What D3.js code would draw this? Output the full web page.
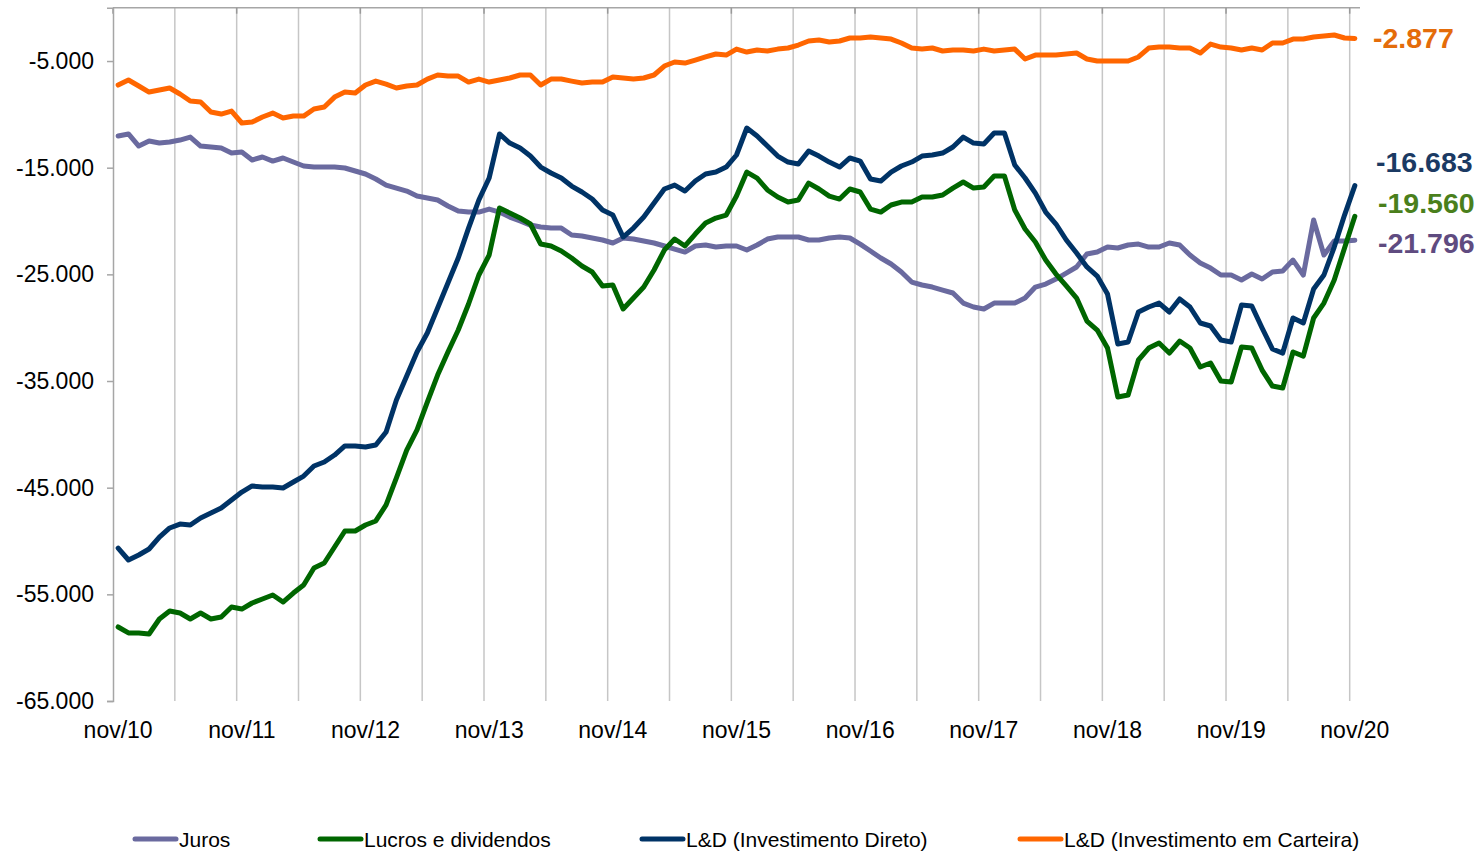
<!DOCTYPE html>
<html>
<head>
<meta charset="utf-8">
<script src="https://cdnjs.cloudflare.com/ajax/libs/d3/7.8.5/d3.min.js"></script>
<style>
  body { margin: 0; background: #fff; }
  svg { display: block; font-family: "Liberation Sans", Arial, sans-serif; }
</style>
</head>
<body>
<div id="chart"></div>
<script>
// monthly data, nov/10 .. nov/20 (121 months)
var months = d3.timeMonth.range(new Date(2010, 10, 1), new Date(2020, 11, 1));
var tickLabels = ["nov/10", "nov/11", "nov/12", "nov/13", "nov/14", "nov/15", "nov/16", "nov/17", "nov/18", "nov/19", "nov/20"];
var yTicks = [-5000, -15000, -25000, -35000, -45000, -55000, -65000];

var juros = [
  -12030, -11840, -12970, -12500, -12690, -12590, -12410, -12130, -12970, -13060, -13160, -13630,
  -13530, -14280, -14000, -14380, -14090, -14470, -14840, -14940, -14940, -14940, -15030, -15310,
  -15590, -16060, -16630, -16910, -17190, -17660, -17840, -18030, -18590, -19060, -19160, -19160,
  -18880, -19160, -19630, -20000, -20380, -20560, -20660, -20660, -21310, -21410, -21590, -21780,
  -22060, -21590, -21690, -21880, -22060, -22340, -22630, -22910, -22340, -22250, -22440, -22340,
  -22340, -22720, -22250, -21690, -21500, -21500, -21500, -21780, -21780, -21590, -21500, -21590,
  -22160, -22810, -23470, -24030, -24780, -25720, -26000, -26190, -26470, -26750, -27690, -28060,
  -28250, -27690, -27690, -27690, -27220, -26190, -25910, -25440, -24880, -24310, -23090, -22910,
  -22440, -22530, -22250, -22160, -22440, -22440, -22060, -22250, -23190, -23940, -24410, -25060,
  -25060, -25530, -24970, -25440, -24780, -24690, -23660, -25060, -19910, -23190, -21880, -21880,
  -21796
];

var lucros = [
  -58060, -58620, -58620, -58720, -57310, -56560, -56750, -57310, -56750, -57310, -57120, -56190,
  -56380, -55810, -55440, -55060, -55720, -54880, -54120, -52530, -52060, -50560, -49060, -49060,
  -48500, -48120, -46620, -44090, -41470, -39590, -36970, -34440, -32280, -30220, -27780, -25060,
  -23190, -18780, -19250, -19720, -20280, -22160, -22340, -22810, -23470, -24220, -24780, -26090,
  -26000, -28250, -27220, -26190, -24590, -22720, -21690, -22340, -21220, -20190, -19720, -19440,
  -17660, -15410, -15970, -17090, -17750, -18220, -18030, -16440, -17000, -17660, -17940, -17000,
  -17280, -18880, -19160, -18500, -18220, -18220, -17750, -17750, -17560, -16910, -16340, -16910,
  -16810, -15780, -15780, -18970, -20750, -21970, -23660, -24970, -26090, -27220, -29380, -30220,
  -31910, -36500, -36310, -33030, -31910, -31440, -32380, -31250, -31910, -33690, -33310, -35000,
  -35090, -31810, -31910, -33970, -35470, -35660, -32280, -32660, -29090, -27690, -25530, -22530,
  -19560
];

var ldDireto = [
  -50660, -51780, -51310, -50750, -49630, -48780, -48410, -48500, -47840, -47380, -46910, -46160,
  -45410, -44840, -44940, -44940, -45030, -44470, -43910, -42970, -42590, -41940, -41090, -41090,
  -41190, -41000, -39780, -36780, -34530, -32280, -30500, -28160, -25810, -23470, -20660, -18030,
  -15970, -11840, -12690, -13160, -13910, -14940, -15500, -15970, -16720, -17280, -17940, -18970,
  -19440, -21500, -20660, -19630, -18310, -17000, -16630, -17190, -16250, -15590, -15410, -14940,
  -13810, -11280, -12030, -12970, -13910, -14470, -14660, -13440, -13910, -14470, -14940, -14090,
  -14380, -16060, -16250, -15410, -14840, -14470, -13910, -13810, -13630, -13060, -12130, -12690,
  -12780, -11750, -11750, -14750, -15970, -17380, -19160, -20280, -21780, -23000, -24310, -25160,
  -26840, -31530, -31340, -28530, -28060, -27690, -28530, -27310, -28060, -29560, -29840, -31160,
  -31340, -27880, -27970, -30030, -32000, -32380, -29090, -29560, -26380, -25060, -22440, -19440,
  -16683
];

var ldCarteira = [
  -7250, -6780, -7340, -7910, -7720, -7530, -8090, -8750, -8840, -9780, -9970, -9690,
  -10810, -10720, -10250, -9880, -10340, -10160, -10160, -9500, -9310, -8380, -7910, -8000,
  -7250, -6880, -7160, -7530, -7340, -7250, -6690, -6310, -6410, -6410, -6970, -6690,
  -6970, -6780, -6590, -6310, -6310, -7250, -6690, -6690, -6880, -7060, -6970, -6970,
  -6500, -6590, -6690, -6590, -6310, -5470, -5090, -5190, -4910, -4620, -4340, -4440,
  -3880, -4160, -3970, -4060, -3880, -3780, -3500, -3120, -3030, -3220, -3120, -2840,
  -2840, -2750, -2840, -2940, -3310, -3780, -3880, -3780, -4060, -3970, -3970, -4060,
  -3880, -4060, -3970, -3880, -4810, -4440, -4440, -4440, -4340, -4250, -4810, -5000,
  -5000, -5000, -5000, -4620, -3780, -3690, -3690, -3780, -3780, -4250, -3410, -3690,
  -3780, -3970, -3780, -3970, -3310, -3310, -2940, -2940, -2750, -2660, -2560, -2840,
  -2877
];

var seriesNames = ["Juros", "Lucros e dividendos", "L&D (Investimento Direto)", "L&D (Investimento em Carteira)"];
var lineColors = ["#6a6a9f", "#006600", "#003366", "#ff6600"];
var labelColors = ["#5f4b80", "#4a7f1c", "#1b3a63", "#e46c0a"];
var allSeries = [juros, lucros, ldDireto, ldCarteira];

const drawChart = () => {

    var W = 1484, H = 854;
    var plotLeft = 113, plotRight = 1360, plotTop = 7.7, plotBottom = 701;

    var locale = d3.formatLocale({ decimal: ",", thousands: ".", grouping: [3], currency: ["R$", ""], minus: "-" });
    var fmt = locale.format(",.0f");

    var svg = d3.select("#chart").append("svg")
        .attr("width", W)
        .attr("height", H);

    var x = d3.scaleBand()
        .domain(d3.range(months.length))
        .range([plotLeft, plotRight])
        .padding(0);

    var y = d3.scaleLinear()
        .domain([-65000, 0])
        .range([plotBottom, plotTop]);

    function cx(i) { return x(i) + x.bandwidth() / 2; }

    // vertical gridlines every 6 months
    svg.append("g").selectAll("line")
        .data(d3.range(6, months.length, 6))
        .enter().append("line")
        .attr("x1", function(d) { return x(d); })
        .attr("x2", function(d) { return x(d); })
        .attr("y1", plotTop)
        .attr("y2", plotBottom)
        .style("stroke", "#c6c6c6")
        .style("stroke-width", 1.5);

    // category axis sits at the top (crosses at max)
    svg.append("line")
        .attr("x1", plotLeft).attr("x2", plotRight)
        .attr("y1", plotTop).attr("y2", plotTop)
        .style("stroke", "#a6a6a6")
        .style("stroke-width", 1.5);

    svg.append("g").selectAll("line")
        .data(d3.range(0, months.length, 12))
        .enter().append("line")
        .attr("x1", function(d) { return x(d); })
        .attr("x2", function(d) { return x(d); })
        .attr("y1", plotTop)
        .attr("y2", plotTop + 6)
        .style("stroke", "#999")
        .style("stroke-width", 1.5);

    // y axis
    var yAxis = d3.axisLeft(y)
        .tickValues(yTicks)
        .tickFormat(fmt)
        .tickSize(6)
        .tickPadding(13);

    var gy = svg.append("g")
        .attr("transform", "translate(" + plotLeft + ",0)")
        .call(yAxis);
    gy.select(".domain").style("stroke", "#a6a6a6").style("stroke-width", 1.5);
    gy.selectAll(".tick line").style("stroke", "#a6a6a6").style("stroke-width", 1.5);
    gy.selectAll(".tick text")
        .style("font-size", "23px")
        .style("font-family", "'Liberation Sans', Arial, sans-serif")
        .style("fill", "#000");

    // x labels at the bottom
    svg.append("g").selectAll("text")
        .data(tickLabels)
        .enter().append("text")
        .attr("x", function(d, k) { return cx(k * 12); })
        .attr("y", 738)
        .attr("text-anchor", "middle")
        .style("font-size", "23px")
        .style("fill", "#000")
        .text(function(d) { return d; });

    // lines
    var line = d3.line()
        .x(function(d, i) { return cx(i); })
        .y(function(d) { return y(d); });

    svg.append("g").selectAll("path")
        .data(allSeries)
        .enter().append("path")
        .attr("d", line)
        .style("fill", "none")
        .style("stroke", function(d, k) { return lineColors[k]; })
        .style("stroke-width", 5)
        .style("stroke-linejoin", "round")
        .style("stroke-linecap", "round");

    // end labels
    var endLabels = [
        { k: 3, x: 1373, y: 48 },
        { k: 2, x: 1376, y: 172 },
        { k: 1, x: 1378, y: 213 },
        { k: 0, x: 1378, y: 253 }
    ];
    svg.append("g").selectAll("text")
        .data(endLabels)
        .enter().append("text")
        .attr("x", function(d) { return d.x; })
        .attr("y", function(d) { return d.y; })
        .style("font-size", "28.5px")
        .style("font-weight", "bold")
        .style("fill", function(d) { return labelColors[d.k]; })
        .text(function(d) { var s = allSeries[d.k]; return fmt(s[s.length - 1]); });

    // legend
    var legendX = [133, 318, 640, 1018];
    var lg = svg.append("g").selectAll("g")
        .data(seriesNames)
        .enter().append("g")
        .attr("transform", function(d, k) { return "translate(" + legendX[k] + ",839)"; });
    lg.append("line")
        .attr("x1", 2).attr("x2", 43)
        .attr("y1", 0).attr("y2", 0)
        .style("stroke", function(d, k) { return lineColors[k]; })
        .style("stroke-width", 5)
        .style("stroke-linecap", "round");
    lg.append("text")
        .attr("x", 46)
        .attr("y", 8)
        .style("font-size", "21px")
        .style("fill", "#000")
        .text(function(d) { return d; });
}

drawChart();
</script>
</body>
</html>
